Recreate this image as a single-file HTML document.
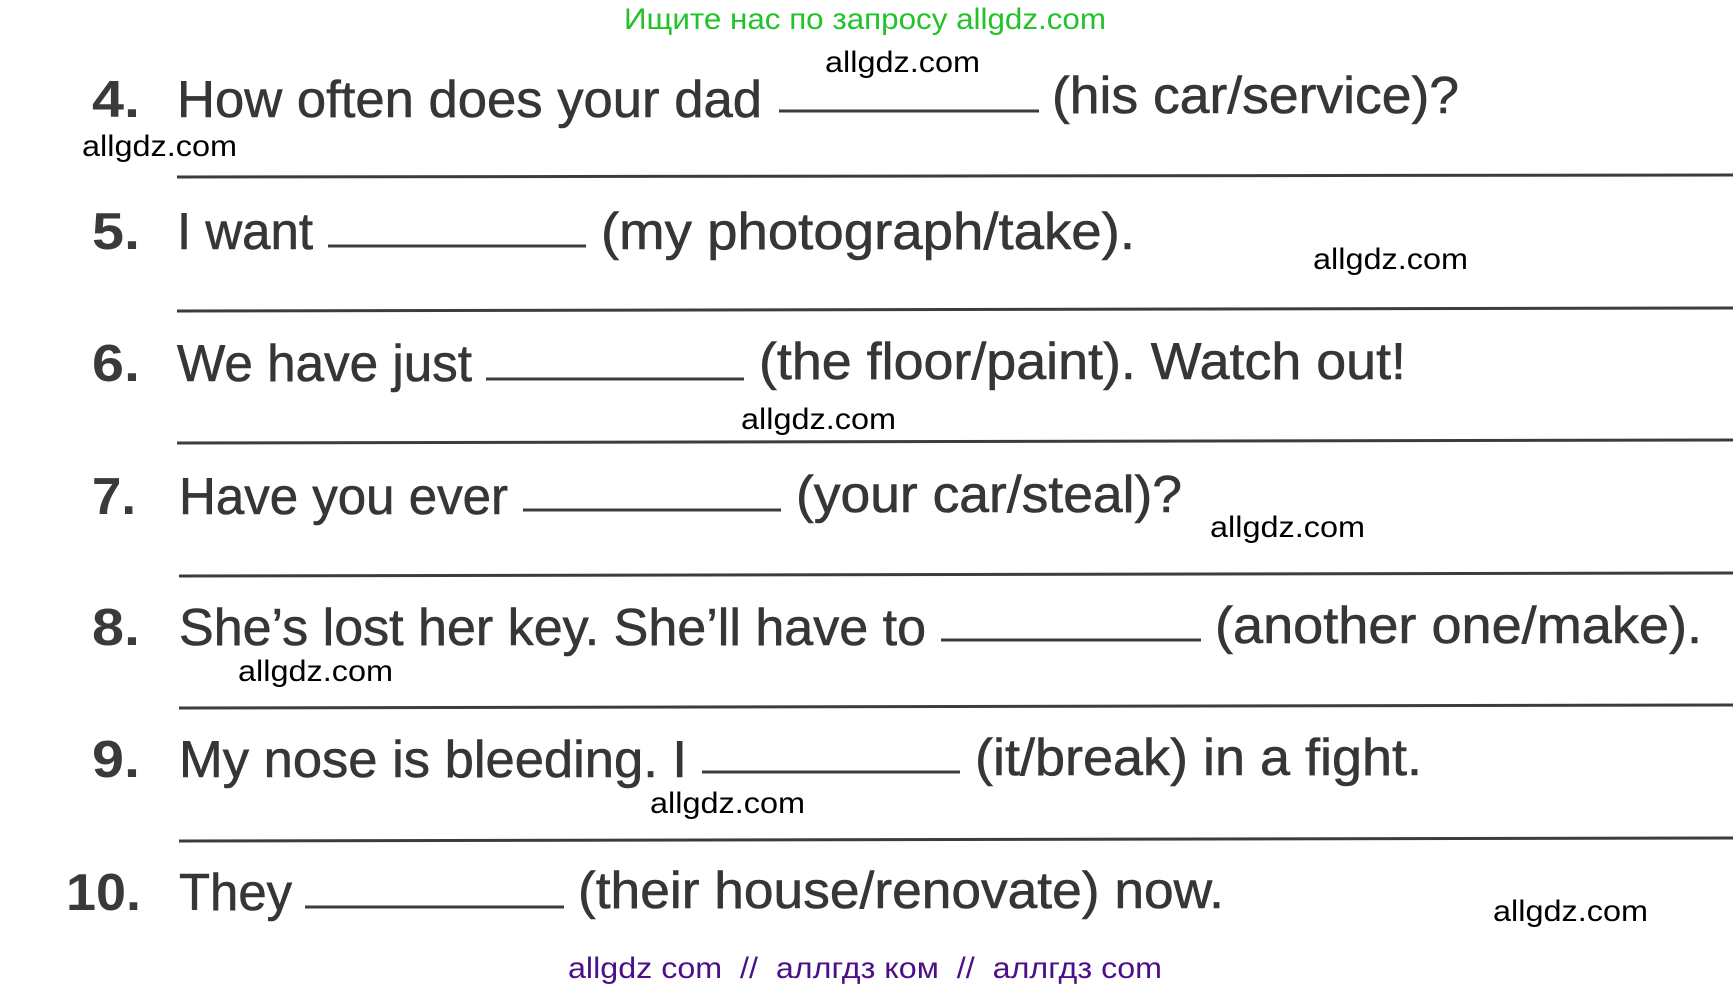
<!DOCTYPE html>
<html><head><meta charset="utf-8"><style>
html,body{margin:0;padding:0;background:#fff;width:1733px;height:991px;overflow:hidden}
svg{display:block}
.m{font-family:"Liberation Sans",sans-serif;font-size:52px;fill:#363636;stroke:#363636;stroke-width:0.6}
.n{font-family:"Liberation Sans",sans-serif;font-size:52px;font-weight:bold;fill:#3a3a3a}
.w{font-family:"Liberation Sans",sans-serif;font-size:30px;fill:#000}
</style></head><body>
<svg width="1733" height="991" viewBox="0 0 1733 991" xmlns="http://www.w3.org/2000/svg">
<g stroke="#3c3c3c" stroke-width="3">
<line x1="177" y1="177" x2="1733" y2="175"/>
<line x1="177" y1="311" x2="1733" y2="308"/>
<line x1="177" y1="443" x2="1733" y2="440"/>
<line x1="179" y1="576" x2="1733" y2="573"/>
<line x1="179" y1="708" x2="1733" y2="705"/>
<line x1="179" y1="841" x2="1733" y2="838"/>
<line x1="779" y1="111" x2="1039" y2="111"/>
<line x1="328" y1="246" x2="586" y2="246"/>
<line x1="486" y1="379" x2="744" y2="379"/>
<line x1="523" y1="510" x2="781" y2="510"/>
<line x1="941" y1="640" x2="1201" y2="640"/>
<line x1="702" y1="772" x2="960" y2="772"/>
<line x1="305" y1="907" x2="564" y2="907"/>
</g>
<text class="w" x="624" y="29" textLength="482" lengthAdjust="spacingAndGlyphs" style="fill:#22c32a">Ищите нас по запросу allgdz.com</text>
<text class="n" x="92" y="117" textLength="48" lengthAdjust="spacingAndGlyphs">4.</text>
<text class="m" x="177" y="117" textLength="585" lengthAdjust="spacingAndGlyphs">How often does your dad</text>
<text class="m" x="1052" y="113" textLength="407" lengthAdjust="spacingAndGlyphs">(his car/service)?</text>
<text class="n" x="92" y="249" textLength="48" lengthAdjust="spacingAndGlyphs">5.</text>
<text class="m" x="177" y="249" textLength="136" lengthAdjust="spacingAndGlyphs">I want</text>
<text class="m" x="601" y="249" textLength="534" lengthAdjust="spacingAndGlyphs">(my photograph/take).</text>
<text class="n" x="92" y="381" textLength="48" lengthAdjust="spacingAndGlyphs">6.</text>
<text class="m" x="177" y="381" textLength="295" lengthAdjust="spacingAndGlyphs">We have just</text>
<text class="m" x="759" y="379" textLength="647" lengthAdjust="spacingAndGlyphs">(the floor/paint). Watch out!</text>
<text class="n" x="92" y="514" textLength="44" lengthAdjust="spacingAndGlyphs">7.</text>
<text class="m" x="179" y="514" textLength="329" lengthAdjust="spacingAndGlyphs">Have you ever</text>
<text class="m" x="796" y="512" textLength="386" lengthAdjust="spacingAndGlyphs">(your car/steal)?</text>
<text class="n" x="92" y="645" textLength="48" lengthAdjust="spacingAndGlyphs">8.</text>
<text class="m" x="179" y="645" textLength="747" lengthAdjust="spacingAndGlyphs">She’s lost her key. She’ll have to</text>
<text class="m" x="1215" y="643" textLength="487" lengthAdjust="spacingAndGlyphs">(another one/make).</text>
<text class="n" x="92" y="777" textLength="48" lengthAdjust="spacingAndGlyphs">9.</text>
<text class="m" x="179" y="777" textLength="508" lengthAdjust="spacingAndGlyphs">My nose is bleeding. I</text>
<text class="m" x="975" y="775" textLength="447" lengthAdjust="spacingAndGlyphs">(it/break) in a fight.</text>
<text class="n" x="66" y="910" textLength="75" lengthAdjust="spacingAndGlyphs">10.</text>
<text class="m" x="179" y="910" textLength="113" lengthAdjust="spacingAndGlyphs">They</text>
<text class="m" x="578" y="908" textLength="646" lengthAdjust="spacingAndGlyphs">(their house/renovate) now.</text>
<text class="w" x="825" y="72" textLength="155" lengthAdjust="spacingAndGlyphs">allgdz.com</text>
<text class="w" x="82" y="156" textLength="155" lengthAdjust="spacingAndGlyphs">allgdz.com</text>
<text class="w" x="1313" y="269" textLength="155" lengthAdjust="spacingAndGlyphs">allgdz.com</text>
<text class="w" x="741" y="429" textLength="155" lengthAdjust="spacingAndGlyphs">allgdz.com</text>
<text class="w" x="1210" y="537" textLength="155" lengthAdjust="spacingAndGlyphs">allgdz.com</text>
<text class="w" x="238" y="681" textLength="155" lengthAdjust="spacingAndGlyphs">allgdz.com</text>
<text class="w" x="650" y="813" textLength="155" lengthAdjust="spacingAndGlyphs">allgdz.com</text>
<text class="w" x="1493" y="921" textLength="155" lengthAdjust="spacingAndGlyphs">allgdz.com</text>
<text class="w" x="568" y="978" xml:space="preserve" textLength="594" lengthAdjust="spacingAndGlyphs" style="fill:#4b0f8a;white-space:pre">allgdz com  //  аллгдз ком  //  аллгдз com</text>
</svg>
</body></html>
